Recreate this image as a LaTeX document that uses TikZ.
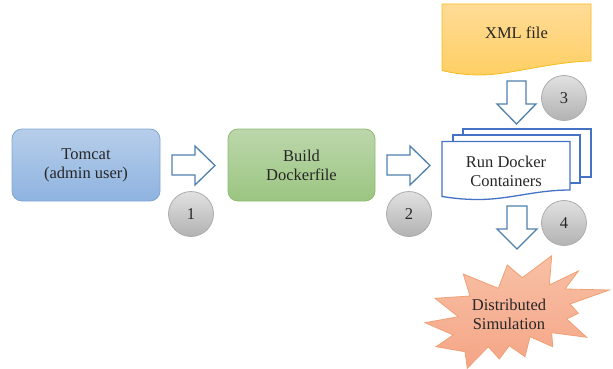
\documentclass[tikz,border=0pt]{standalone}
\usepackage{fontspec}
\setmainfont{Liberation Serif}
\definecolor{txt}{HTML}{262626}
\definecolor{arrowline}{HTML}{4F81AD}
\definecolor{docline}{HTML}{4472C4}
\definecolor{tomline}{RGB}{127,167,210}
\definecolor{tomtop}{RGB}{183,206,234}
\definecolor{tombot}{RGB}{142,179,224}
\definecolor{buildline}{RGB}{141,186,112}
\definecolor{buildtop}{RGB}{188,215,171}
\definecolor{buildbot}{RGB}{155,197,129}
\definecolor{xmlline}{RGB}{245,188,30}
\definecolor{xmltop}{RGB}{255,219,150}
\definecolor{xmlbot}{RGB}{255,207,100}
\definecolor{starline}{RGB}{240,160,115}
\definecolor{startop}{RGB}{248,192,165}
\definecolor{starbot}{RGB}{245,165,135}
\tikzset{
  lbl/.style={text=txt,font=\fontsize{16.5}{19}\selectfont,align=center,inner sep=0pt},
  mainbox/.style={line width=0.8pt,rounded corners=10pt,minimum height=72pt,inner sep=0pt,lbl},
  blockarrow/.style={draw=arrowline,fill=white,line width=1.3pt,miter limit=10},
  docpage/.style={draw=docline,fill=white,line width=1.3pt},
  badge/.style={circle,draw=black!32,line width=0.8pt,top color=black!12,bottom color=black!30,minimum size=45pt,inner sep=0pt,text=txt,font=\fontsize{16.5}{19}\selectfont},
}
\begin{document}
\begin{tikzpicture}[x=1pt,y=-1pt]
\useasboundingbox (0,0) rectangle (613,369);
% main boxes
\node[mainbox,draw=tomline,minimum width=148pt,top color=tomtop,bottom color=tombot] (tomcat) at (86,165) {Tomcat\\(admin user)};
\node[mainbox,draw=buildline,minimum width=147pt,top color=buildtop,bottom color=buildbot] (build) at (301.5,165) {Build\\Dockerfile};
% xml file
\path[draw=xmlline,line width=0.8pt,top color=xmltop,bottom color=xmlbot]
  (442,4) -- (591,4) -- (591,61) .. controls (550,62) and (510,75) .. (480,75) .. controls (465,75) and (452,73) .. (442,70.5) -- cycle;
\node[lbl] (xml) at (516.5,33) {XML file};
% document stack
\path[docpage] (463,129) -- (591,129) -- (591,177) -- (463,177) -- cycle;
\path[docpage] (453,135) -- (580,135) -- (580,183) -- (453,183) -- cycle;
\path[docpage] (442,141.5) -- (570,141.5) -- (570,190) .. controls (535,190) and (510,199.5) .. (478,199.5) .. controls (463,199.5) and (452,198) .. (442,196.5) -- cycle;
\node[lbl] (run) at (506,171) {Run Docker\\Containers};
% star
\path[draw=starline,line width=0.8pt,top color=startop,bottom color=starbot]
  (551.7,255.7) -- (549.3,285) -- (578.3,271) -- (565,289) -- (609.3,290) -- (570,304) -- (578.3,313.3) -- (566.7,319) -- (586.7,337.3) -- (551.7,332.7) -- (552.7,346.7) -- (530,336.7) -- (525,356.7) -- (509.3,345.7) -- (499.3,359) -- (488.3,346.7) -- (467.3,368.3) -- (465,351.7) -- (436,346.7) -- (453.3,335) -- (425,322.7) -- (458.3,316.7) -- (435,298.3) -- (470,296) -- (463.3,274) -- (498.3,288.3) -- (507.3,265) -- (522.3,277.7) -- cycle;
\node[lbl] (sim) at (509,314.5) {Distributed\\Simulation};
% block arrows
\path[blockarrow] (172,155) -- (195,155) -- (195,146) -- (215,165.5) -- (195,185) -- (195,175) -- (172,175) -- cycle;
\path[blockarrow] (387,155) -- (410,155) -- (410,146) -- (430,165.5) -- (410,185) -- (410,175) -- (387,175) -- cycle;
\path[blockarrow] (507,81) -- (526,81) -- (526,104) -- (536,104) -- (516.5,124) -- (497,104) -- (507,104) -- cycle;
\path[blockarrow] (507,206) -- (527,206) -- (527,229) -- (537,229) -- (517,249) -- (497,229) -- (507,229) -- cycle;
% numbered badges
\node[badge] (b1) at (191,214) {1};
\node[badge] (b2) at (409,214) {2};
\node[badge] (b3) at (564,98) {3};
\node[badge] (b4) at (564,223) {4};
\end{tikzpicture}
\end{document}
